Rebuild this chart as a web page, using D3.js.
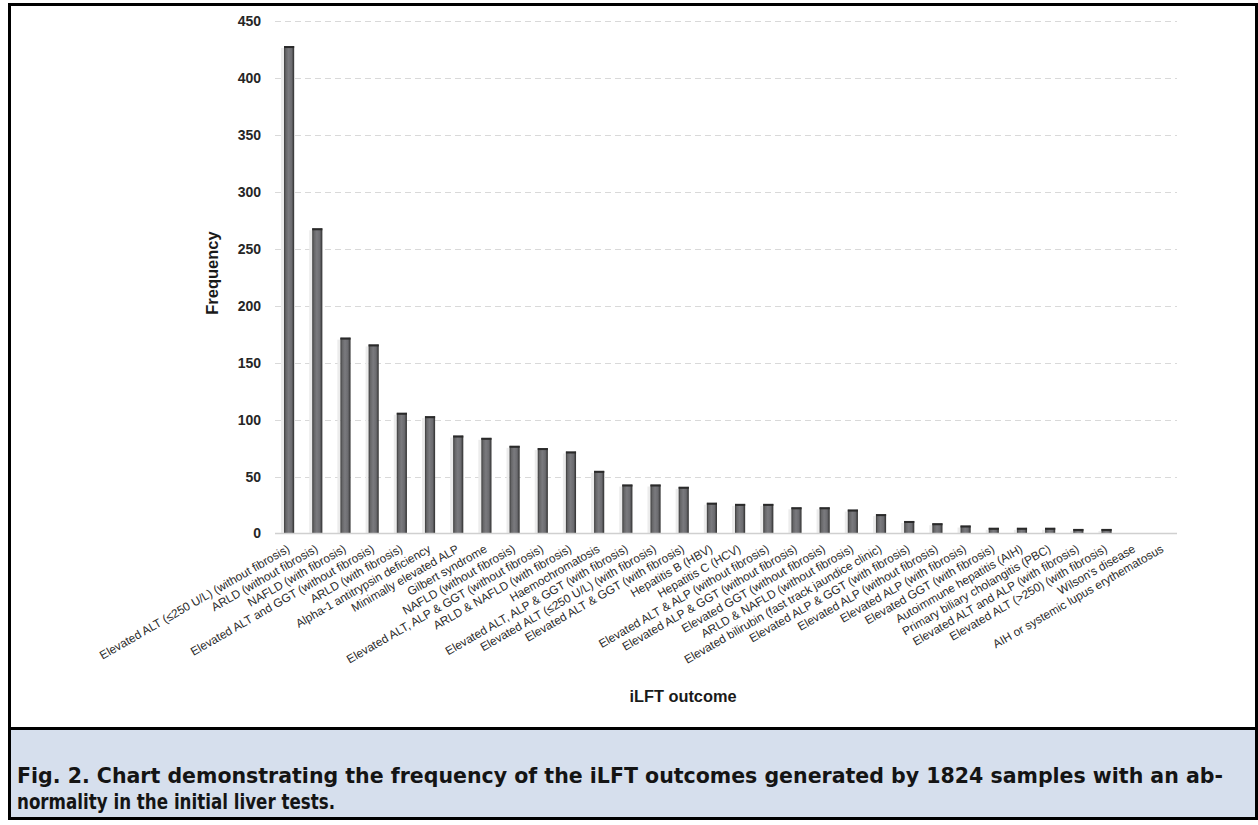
<!DOCTYPE html>
<html>
<head>
<meta charset="utf-8">
<script src="https://cdn.jsdelivr.net/npm/d3@7"></script>
<style>
  html, body { margin: 0; padding: 0; background: #ffffff; }
  svg { display: block; }
</style>
</head>
<body>
<svg id="chart" width="1258" height="825"></svg>
<script>
const categories = [
  "Elevated ALT (≤250 U/L) (without fibrosis)",
  "ARLD (without fibrosis)",
  "NAFLD (with fibrosis)",
  "Elevated ALT and GGT (without fibrosis)",
  "ARLD (with fibrosis)",
  "Alpha-1 antitrypsin deficiency",
  "Minimally elevated ALP",
  "Gilbert syndrome",
  "NAFLD (without fibrosis)",
  "Elevated ALT, ALP & GGT (without fibrosis)",
  "ARLD & NAFLD (with fibrosis)",
  "Haemochromatosis",
  "Elevated ALT, ALP & GGT (with fibrosis)",
  "Elevated ALT (≤250 U/L) (with fibrosis)",
  "Elevated ALT & GGT (with fibrosis)",
  "Hepatitis B (HBV)",
  "Hepatitis C (HCV)",
  "Elevated ALT & ALP (without fibrosis)",
  "Elevated ALP & GGT (without fibrosis)",
  "Elevated GGT (without fibrosis)",
  "ARLD & NAFLD (without fibrosis)",
  "Elevated bilirubin (fast track jaundice clinic)",
  "Elevated ALP & GGT (with fibrosis)",
  "Elevated ALP (without fibrosis)",
  "Elevated ALP (with fibrosis)",
  "Elevated GGT (with fibrosis)",
  "Autoimmune hepatitis (AIH)",
  "Primary biliary cholangitis (PBC)",
  "Elevated ALT and ALP (with fibrosis)",
  "Elevated ALT (>250) (with fibrosis)",
  "Wilson's disease",
  "AIH or systemic lupus erythematosus"
];
const frequency = [428, 268, 172, 166, 106, 103, 86, 84, 77, 75, 72, 55, 43, 43, 41, 27, 26, 26, 23, 23, 21, 17, 11, 9, 7, 5, 5, 5, 4, 4, 0, 0];
const yTicks = [0, 50, 100, 150, 200, 250, 300, 350, 400, 450];
const yTitle = "Frequency";
const xTitle = "iLFT outcome";
const captionLines = [
  "Fig. 2. Chart demonstrating the frequency of the iLFT outcomes generated by 1824 samples with an ab-",
  "normality in the initial liver tests."
];

const svg = d3.select("#chart");

// outer frame & caption panel
svg.append("rect").attr("x", 9.5).attr("y", 4.5).attr("width", 1247).attr("height", 814)
  .attr("fill", "#ffffff").attr("stroke", "#000").attr("stroke-width", 3);
svg.append("rect").attr("x", 9.5).attr("y", 728.5).attr("width", 1247).attr("height", 90)
  .attr("fill", "#d6dfed").attr("stroke", "#000").attr("stroke-width", 3);

const plot = { left: 275, right: 1177, top: 21, bottom: 533.5 };

const x = d3.scaleBand().domain(categories).range([plot.left, plot.right]).paddingInner(0.64).paddingOuter(0.32);
const y = d3.scaleLinear().domain([0, 450]).range([plot.bottom, plot.top]);

// gradient for bars
const defs = svg.append("defs");
const grad = defs.append("linearGradient").attr("id", "barGrad").attr("x1", "0").attr("x2", "1").attr("y1", "0").attr("y2", "0");
[["0%", "#3a3a3a"], ["18%", "#666668"], ["45%", "#7a7a7e"], ["75%", "#6c6c70"], ["100%", "#2e2e2e"]]
  .forEach(([o, c]) => grad.append("stop").attr("offset", o).attr("stop-color", c));

// gridlines
svg.append("g").selectAll("line").data(yTicks.filter(d => d > 0)).join("line")
  .attr("x1", plot.left).attr("x2", plot.right)
  .attr("y1", d => Math.round(y(d)) + 0.5).attr("y2", d => Math.round(y(d)) + 0.5)
  .attr("stroke", "#d9d9d9").attr("stroke-width", 1).attr("stroke-dasharray", "6,4");

// y axis (labels only)
const yAxis = d3.axisLeft(y).tickValues(yTicks).tickSize(0).tickPadding(14);
const gy = svg.append("g").attr("transform", `translate(${plot.left},0)`).call(yAxis);
gy.select(".domain").remove();
gy.selectAll("text").attr("font-family", "Liberation Sans, Arial, sans-serif")
  .attr("font-size", 14).attr("font-weight", "bold").attr("fill", "#262626");

// bar shadow
svg.append("g").selectAll("rect").data(frequency).join("rect")
  .attr("x", (d, i) => x(categories[i]) - 3)
  .attr("y", d => y(d) + 2)
  .attr("width", 3)
  .attr("height", d => Math.max(0, plot.bottom - y(d) - 2))
  .attr("fill", "#ececec");

// bars
svg.append("g").selectAll("rect").data(frequency).join("rect")
  .attr("x", (d, i) => x(categories[i]))
  .attr("y", d => y(d))
  .attr("width", x.bandwidth())
  .attr("height", d => plot.bottom - y(d))
  .attr("fill", "url(#barGrad)");
svg.append("g").selectAll("rect").data(frequency.filter(d => d > 0)).join("rect")
  .attr("x", (d, i) => x(categories[i]))
  .attr("y", d => y(d))
  .attr("width", x.bandwidth())
  .attr("height", 2)
  .attr("fill", "#2a2a2a");

// baseline
svg.append("line").attr("x1", plot.left).attr("x2", plot.right)
  .attr("y1", plot.bottom).attr("y2", plot.bottom)
  .attr("stroke", "#d0d0d0").attr("stroke-width", 1.5);

// x axis labels
const xAxis = d3.axisBottom(x).tickSize(0).tickPadding(0);
const gx = svg.append("g").attr("transform", `translate(0,${plot.bottom})`).call(xAxis);
gx.select(".domain").remove();
gx.selectAll(".tick text")
  .attr("font-family", "Liberation Sans, Arial, sans-serif")
  .attr("font-size", 11.8).attr("fill", "#2a2a2a")
  .attr("text-anchor", "end")
  .attr("dy", null).attr("y", null)
  .attr("transform", "translate(0,15) rotate(-30)")
  .attr("dominant-baseline", "middle");

// axis titles
svg.append("text").attr("transform", `translate(218,273) rotate(-90)`)
  .attr("text-anchor", "middle").attr("font-family", "Liberation Sans, Arial, sans-serif")
  .attr("font-size", 16.5).attr("font-weight", "bold").attr("fill", "#1a1a1a").text(yTitle);
svg.append("text").attr("x", 683).attr("y", 702)
  .attr("text-anchor", "middle").attr("font-family", "Liberation Sans, Arial, sans-serif")
  .attr("font-size", 16).attr("font-weight", "bold").attr("fill", "#1a1a1a")
  .attr("textLength", 107).attr("lengthAdjust", "spacingAndGlyphs").text(xTitle);

// caption
const capFont = "'DejaVu Sans Condensed', 'DejaVu Sans', sans-serif";
const cap = svg.append("g");
cap.append("text").attr("x", 17).attr("y", 783).attr("font-family", capFont)
  .attr("font-size", 21).attr("font-weight", "bold").attr("fill", "#141414")
  .attr("textLength", 1206).attr("lengthAdjust", "spacingAndGlyphs").text(captionLines[0]);
cap.append("text").attr("x", 17).attr("y", 808.5).attr("font-family", capFont)
  .attr("font-size", 21).attr("font-weight", "bold").attr("fill", "#141414")
  .attr("textLength", 318).attr("lengthAdjust", "spacingAndGlyphs").text(captionLines[1]);
</script>
</body>
</html>
